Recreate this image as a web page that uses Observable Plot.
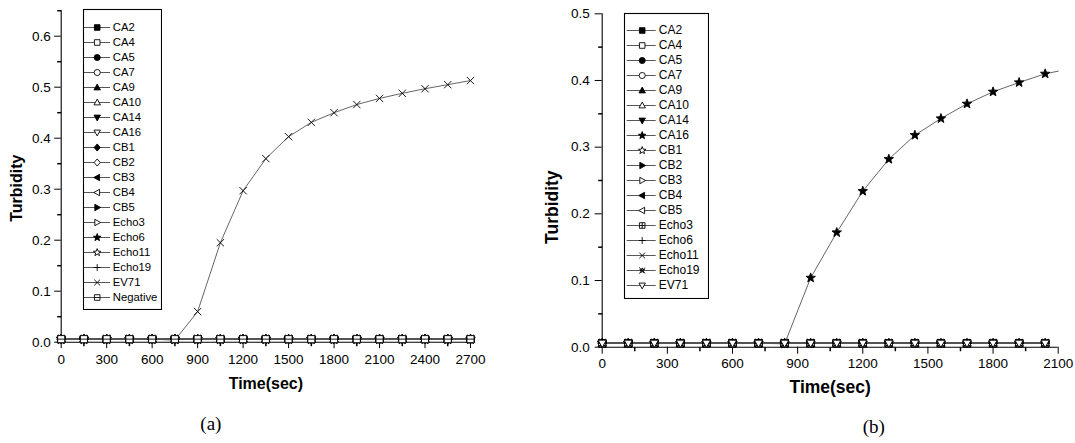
<!DOCTYPE html>
<html><head><meta charset="utf-8">
<script src="https://cdn.jsdelivr.net/npm/d3@7"></script>
<script src="https://cdn.jsdelivr.net/npm/@observablehq/plot@0.6"></script>
<style>
body{margin:0;background:#fff;}
#wrap{position:relative;width:1075px;height:443px;background:#fff;overflow:hidden;}
#wrap svg{position:absolute;}
</style></head><body><div id="wrap"></div>
<script>
// ---------------- DATA: panel (a) ----------------
const seriesA = ["CA2","CA4","CA5","CA7","CA9","CA10","CA14","CA16","CB1","CB2","CB3","CB4","CB5","Echo3","Echo6","Echo11","Echo19","EV71","Negative"];
const timeA = [0,150,300,450,600,750,900,1050,1200,1350,1500,1650,1800,1950,2100,2250,2400,2550,2700];
const flatA = [0.006,0.006,0.006,0.006,0.006,0.006,0.006,0.006,0.006,0.006,0.006,0.006,0.006,0.006,0.006,0.006,0.006,0.006,0.006];
const risingNameA = "EV71";
const risingTimeA = [0,150,300,450,600,750,900,1050,1200,1350,1500,1650,1800,1950,2100,2250,2400,2550,2700];
const risingA = [0.006,0.006,0.006,0.006,0.006,0.004,0.060,0.195,0.297,0.360,0.403,0.431,0.450,0.466,0.478,0.488,0.497,0.505,0.513];
const xTicksA = [0,300,600,900,1200,1500,1800,2100,2400,2700];
const xMinorA = [150,450,750,1050,1350,1650,1950,2250,2550];
const yTicksA = [0,0.1,0.2,0.3,0.4,0.5,0.6];
const yMinorA = [0.05,0.15,0.25,0.35,0.45,0.55,0.65];

// ---------------- DATA: panel (b) ----------------
const seriesB = ["CA2","CA4","CA5","CA7","CA9","CA10","CA14","CA16","CB1","CB2","CB3","CB4","CB5","Echo3","Echo6","Echo11","Echo19","EV71"];
const timeB = [0,120,240,360,480,600,720,840,960,1080,1200,1320,1440,1560,1680,1800,1920,2040];
const flatB = [0.006,0.006,0.006,0.006,0.006,0.006,0.006,0.006,0.006,0.006,0.006,0.006,0.006,0.006,0.006,0.006,0.006,0.006];
const risingNameB = "CA16";
const risingTimeB = [0,120,240,360,480,600,720,840,960,1080,1200,1320,1440,1560,1680,1800,1920,2040,2100];
const risingB = [0.006,0.006,0.006,0.006,0.006,0.006,0.006,0.005,0.104,0.172,0.234,0.282,0.318,0.343,0.365,0.383,0.397,0.410,0.414];
const xTicksB = [0,300,600,900,1200,1500,1800,2100];
const xMinorB = [150,450,750,1050,1350,1650,1950];
const yTicksB = [0,0.1,0.2,0.3,0.4,0.5];
const yMinorB = [0.05,0.15,0.25,0.35,0.45];

// ---------------- STYLES ----------------
const symbolA = ["square","square","circle","circle","triUp","triUp","triDown","triDown","diamond","diamond","triLeft","triLeft","triRight","triRight","star","star","plus","times","squareH"];
const fillA   = ["F","O","F","O","F","O","F","O","F","O","F","O","F","O","F","O","L","L","O"];
const symbolB = ["square","square","circle","circle","triUp","triUp","triDown","star","star","triRight","triRight","triLeft","triLeft","squarePlus","plus","times","timesStar","triDown"];
const fillB   = ["F","O","F","O","F","O","F","F","O","F","O","F","O","O","L","L","L","O"];

const FONT = '"Liberation Sans", Arial, sans-serif';

const sym = fn => ({draw(ctx, size){ const s = Math.sqrt(size/Math.PI); fn(ctx, s); }});
const poly = (c, pts) => { c.moveTo(pts[0][0], pts[0][1]); for (let k=1;k<pts.length;k++) c.lineTo(pts[k][0], pts[k][1]); c.closePath(); };
const sq = (c,s) => { const h=s*0.82; poly(c,[[-h,-h],[h,-h],[h,h],[-h,h]]); };
const starPts = (R) => { const p=[]; for(let k=0;k<10;k++){const a=-Math.PI/2+k*Math.PI/5; const rr=k%2?R*0.42:R; p.push([rr*Math.cos(a), rr*Math.sin(a)]);} return p; };
const SYM = {
  square: sym(sq),
  circle: sym((c,s)=>{const r=s*0.9; c.moveTo(r,0); c.arc(0,0,r,0,2*Math.PI);}),
  triUp: sym((c,s)=>poly(c,[[0,-s],[s*0.95,s*0.7],[-s*0.95,s*0.7]])),
  triDown: sym((c,s)=>poly(c,[[0,s],[s*0.95,-s*0.7],[-s*0.95,-s*0.7]])),
  triLeft: sym((c,s)=>poly(c,[[-s,0],[s*0.7,-s*0.95],[s*0.7,s*0.95]])),
  triRight: sym((c,s)=>poly(c,[[s,0],[-s*0.7,-s*0.95],[-s*0.7,s*0.95]])),
  diamond: sym((c,s)=>poly(c,[[0,-s*1.05],[s*0.9,0],[0,s*1.05],[-s*0.9,0]])),
  star: sym((c,s)=>poly(c, starPts(s*1.15))),
  plus: sym((c,s)=>{c.moveTo(0,-s); c.lineTo(0,s); c.moveTo(-s,0); c.lineTo(s,0);}),
  times: sym((c,s)=>{const h=s*0.85; c.moveTo(-h,-h); c.lineTo(h,h); c.moveTo(h,-h); c.lineTo(-h,h);}),
  squareH: sym((c,s)=>{sq(c,s); const h=s*0.82; c.moveTo(-h,0); c.lineTo(h,0);}),
  squarePlus: sym((c,s)=>{sq(c,s); const h=s*0.82; c.moveTo(-h,0); c.lineTo(h,0); c.moveTo(0,-h); c.lineTo(0,h);}),
  timesStar: sym((c,s)=>{const h=s*0.9; c.moveTo(-h,-h); c.lineTo(h,h); c.moveTo(h,-h); c.lineTo(-h,h); poly(c, starPts(s*0.75));})
};
const tickDown = len => ({draw(c){ c.moveTo(0,0); c.lineTo(0,len); }});
const tickLeft = len => ({draw(c){ c.moveTo(0,0); c.lineTo(-len,0); }});
const fillOf = f => f==="F" ? "black" : f==="O" ? "white" : "none";

function mainChart(cfg){
  const marks = [];
  const rowsOf = name => {
    const isR = name === cfg.risingName;
    const ts = isR ? cfg.risingTime : cfg.times;
    const vs = isR ? cfg.rising : cfg.flat;
    return ts.map((t,j)=>({t, v: vs[j]}));
  };
  marks.push(Plot.ruleX([0], {stroke:"black", strokeWidth:1.1}));
  marks.push(Plot.ruleY([0], {stroke:"black", strokeWidth:1.1}));
  marks.push(Plot.dot(cfg.xMinor, {x: d=>d, y: d=>0, r:1, symbol: tickDown(cfg.minorLen), stroke:"black", fill:"none"}));
  marks.push(Plot.dot(cfg.yMinor, {x: d=>0, y: d=>d, r:1, symbol: tickLeft(cfg.minorLen), stroke:"black", fill:"none"}));
  cfg.names.forEach(name => {
    marks.push(Plot.line(rowsOf(name), {x:"t", y:"v", stroke:"#555", strokeWidth:0.9}));
  });
  cfg.names.forEach((name,i) => {
    const rows = rowsOf(name).slice(0, cfg.times.length);
    marks.push(Plot.dot(rows, {x:"t", y:"v", r: cfg.r, symbol: SYM[cfg.symbols[i]], fill: fillOf(cfg.fills[i]), stroke:"black", strokeWidth:0.9}));
  });
  marks.push(Plot.text([cfg.yLabel], {text: d=>d, x: d=>0, y: d=>cfg.yLabelAt, dx: cfg.yLabelDx, rotate:-90, fontWeight:"bold", fontSize: cfg.titleSize, fontFamily: FONT, fill:"black"}));
  marks.push(Plot.text([cfg.xLabel], {text: d=>d, frameAnchor:"bottom", dy: cfg.xLabelDy, fontWeight:"bold", fontSize: cfg.titleSize, fontFamily: FONT, fill:"black"}));
  marks.push(Plot.text([cfg.caption], {text: d=>d, frameAnchor:"bottom", dx: cfg.capDx, dy: cfg.capDy, fontSize: 19, fontFamily: '"Liberation Serif", "Times New Roman", serif', fill:"black"}));
  return Plot.plot({
    width: cfg.width, height: 443,
    marginLeft: cfg.ml, marginRight: cfg.mr, marginTop: cfg.mt, marginBottom: cfg.mb,
    style: {fontFamily: FONT, fontSize: "13.5px", color: "black", background: "transparent", overflow: "visible"},
    x: {domain: cfg.xDomain, ticks: cfg.xTicks, tickFormat: "d", tickSize: cfg.majorLen, tickPadding: cfg.xPad, label: null},
    y: {domain: cfg.yDomain, ticks: cfg.yTicks, tickFormat: ".1f", tickSize: cfg.majorLen, tickPadding: cfg.yPad, label: null},
    marks
  });
}

function legendChart(cfg){
  const marks = [Plot.frame({stroke:"black", strokeWidth:1.1})];
  marks.push(Plot.ruleY(cfg.names, {y: d=>d, x1: cfg.lineX1, x2: cfg.lineX2, stroke:"#444", strokeWidth:0.9}));
  cfg.names.forEach((name,i) => {
    marks.push(Plot.dot([name], {x: d=>cfg.symX, y: d=>d, r: cfg.r, symbol: SYM[cfg.symbols[i]], fill: fillOf(cfg.fills[i]), stroke:"black", strokeWidth:0.9}));
  });
  marks.push(Plot.text(cfg.names, {x: d=>cfg.textX, y: d=>d, text: d=>d, textAnchor:"start", fontSize: cfg.fontSize, fontFamily: FONT, fill:"black"}));
  return Plot.plot({
    width: cfg.width, height: cfg.height,
    marginLeft:1, marginRight:1, marginTop:1, marginBottom:1,
    style: {fontFamily: FONT, background: "white"},
    x: {domain:[0, cfg.width], range:[0, cfg.width], axis: null},
    y: {type:"point", domain: cfg.names, range: [cfg.rowTop, cfg.rowBottom], padding: 0, axis: null},
    marks
  });
}

const wrap = document.getElementById("wrap");
function place(svg, left, top){ svg.style.left = left + "px"; svg.style.top = top + "px"; wrap.appendChild(svg); }

place(mainChart({
  names: seriesA, symbols: symbolA, fills: fillA, times: timeA, flat: flatA,
  risingName: risingNameA, risingTime: risingTimeA, rising: risingA,
  xDomain: [0,2700], yDomain: [0,0.65], xTicks: xTicksA, yTicks: yTicksA, xMinor: xMinorA, yMinor: yMinorA,
  width: 530, ml: 60.7, mr: 60, mt: 10.2, mb: 101.3, r: 4.3,
  majorLen: 6.5, minorLen: 4, xPad: 6, yPad: 4,
  yLabel: "Turbidity", xLabel: "Time(sec)", caption: "(a)", titleSize: 16,
  yLabelAt: 0.302, yLabelDx: -44.7, xLabelDy: 46.5, capDx: -55, capDy: 88
}), 0, 0);

place(mainChart({
  names: seriesB, symbols: symbolB, fills: fillB, times: timeB, flat: flatB,
  risingName: risingNameB, risingTime: risingTimeB, rising: risingB,
  xDomain: [0,2100], yDomain: [0,0.5], xTicks: xTicksB, yTicks: yTicksB, xMinor: xMinorB, yMinor: yMinorB,
  width: 535, ml: 61.7, mr: 17.3, mt: 13.3, mb: 96.3, r: 4.3,
  majorLen: 7, minorLen: 4, xPad: 4, yPad: 5.4,
  yLabel: "Turbidity", xLabel: "Time(sec)", caption: "(b)", titleSize: 17.5,
  yLabelAt: 0.21, yLabelDx: -50, xLabelDy: 45.5, capDx: 43.6, capDy: 86
}), 540, 0);

place(legendChart({
  names: seriesA, symbols: symbolA, fills: fillA, width: 80, height: 302,
  rowTop: 13, rowBottom: 295.3, lineX1: 2, lineX2: 28, symX: 14.7, textX: 30.3, r: 3.4, fontSize: 11.3
}), 82, 8);

place(legendChart({
  names: seriesB, symbols: symbolB, fills: fillB, width: 86, height: 287,
  rowTop: 12.3, rowBottom: 278.7, lineX1: 3.7, lineX2: 32.7, symX: 18.7, textX: 35.3, r: 3.4, fontSize: 12
}), 623, 12);
</script></body></html>
